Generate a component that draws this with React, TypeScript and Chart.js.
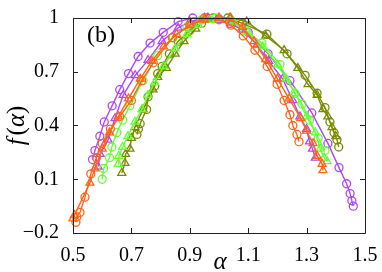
import React, { useEffect, useRef } from "react";
import { Chart, registerables } from "chart.js";

Chart.register(...registerables);

// x ticks / y ticks
const X_TICKS = [0.5, 0.7, 0.9, 1.1, 1.3, 1.5];
const Y_TICKS = [-0.2, 0.1, 0.4, 0.7, 1];

// Orange, circles
const ALPHA_OC = [0.51, 0.513, 0.524, 0.541, 0.561, 0.58, 0.6, 0.628, 0.66, 0.7, 0.735, 0.775, 0.84, 0.9, 0.95, 1.0, 1.04, 1.083, 1.123, 1.165, 1.199, 1.223, 1.243, 1.253, 1.267, 1.274];
const F_OC = [-0.14, -0.11, -0.085, 0.0, 0.13, 0.22, 0.3, 0.38, 0.45, 0.54, 0.65, 0.75, 0.89, 0.96, 1.0, 0.99, 0.96, 0.9, 0.82, 0.73, 0.63, 0.54, 0.46, 0.4, 0.35, 0.31];
// Orange, triangles
const ALPHA_OT = [0.5, 0.505, 0.558, 0.575, 0.6, 0.625, 0.655, 0.69, 0.73, 0.77, 0.81, 0.855, 0.9, 0.95, 1.0, 1.037, 1.08, 1.12, 1.16, 1.2, 1.24, 1.28, 1.3, 1.322, 1.336, 1.353, 1.356];
const F_OT = [-0.12, -0.1, 0.08, 0.16, 0.27, 0.36, 0.45, 0.55, 0.66, 0.76, 0.84, 0.91, 0.96, 0.99, 1.0, 1.0, 0.95, 0.87, 0.77, 0.66, 0.55, 0.44, 0.37, 0.3, 0.23, 0.185, 0.15];
// Green, circles
const ALPHA_GC = [0.6, 0.605, 0.625, 0.633, 0.65, 0.67, 0.695, 0.74, 0.79, 0.843, 0.89, 0.94, 0.99, 1.04, 1.09, 1.147, 1.209, 1.26, 1.284, 1.31, 1.34, 1.363];
const F_GC = [0.1, 0.16, 0.22, 0.28, 0.36, 0.43, 0.51, 0.65, 0.79, 0.89, 0.95, 0.99, 1.0, 0.98, 0.93, 0.86, 0.74, 0.58, 0.52, 0.43, 0.33, 0.26];
// Green, triangles
const ALPHA_GT = [0.655, 0.657, 0.67, 0.688, 0.712, 0.736, 0.757, 0.78, 0.81, 0.85, 0.89, 0.93, 0.97, 1.0, 1.05, 1.1, 1.15, 1.2, 1.23, 1.26, 1.3, 1.33, 1.346, 1.36, 1.37];
const F_GT = [0.185, 0.23, 0.28, 0.34, 0.42, 0.49, 0.57, 0.64, 0.73, 0.83, 0.91, 0.96, 0.99, 1.0, 0.98, 0.92, 0.84, 0.74, 0.66, 0.58, 0.45, 0.36, 0.27, 0.22, 0.2];
// Purple, circles
const ALPHA_PC = [0.567, 0.575, 0.592, 0.607, 0.634, 0.66, 0.69, 0.723, 0.764, 0.809, 0.86, 0.91, 0.96, 1.0, 1.038, 1.1, 1.168, 1.243, 1.318, 1.373, 1.411, 1.437, 1.449, 1.455, 1.46];
const F_PC = [0.21, 0.26, 0.34, 0.42, 0.51, 0.6, 0.69, 0.785, 0.86, 0.92, 0.98, 1.0, 1.0, 0.995, 0.97, 0.92, 0.8, 0.65, 0.47, 0.3, 0.165, 0.075, 0.02, -0.02, -0.05];
// Purple, triangles
const ALPHA_PT = [0.586, 0.593, 0.62, 0.644, 0.672, 0.713, 0.757, 0.805, 0.86, 0.9, 0.95, 1.0, 1.04, 1.08, 1.13, 1.17, 1.218, 1.253, 1.277, 1.3, 1.31, 1.32, 1.33];
const F_PT = [0.17, 0.24, 0.32, 0.44, 0.57, 0.68, 0.765, 0.87, 0.945, 0.98, 1.0, 0.99, 0.97, 0.935, 0.85, 0.76, 0.66, 0.54, 0.45, 0.38, 0.31, 0.27, 0.22];
// Olive, circles
const ALPHA_LC = [0.719, 0.724, 0.73, 0.752, 0.757, 0.78, 0.79, 0.805, 0.83, 0.86, 0.9, 0.94, 0.98, 1.03, 1.08, 1.164, 1.233, 1.295, 1.336, 1.363, 1.38, 1.394, 1.404, 1.41];
const F_LC = [0.35, 0.38, 0.41, 0.49, 0.56, 0.62, 0.69, 0.73, 0.8, 0.87, 0.93, 0.97, 1.0, 1.0, 0.97, 0.91, 0.8, 0.68, 0.58, 0.5, 0.42, 0.36, 0.32, 0.28];
// Olive, triangles
const ALPHA_LT = [0.667, 0.678, 0.68, 0.695, 0.7, 0.712, 0.74, 0.774, 0.79, 0.82, 0.85, 0.88, 0.92, 0.962, 1.0, 1.04, 1.095, 1.16, 1.223, 1.27, 1.305, 1.336, 1.356, 1.373, 1.387, 1.4];
const F_LT = [0.135, 0.19, 0.24, 0.27, 0.33, 0.39, 0.49, 0.6, 0.67, 0.72, 0.8, 0.87, 0.94, 1.0, 1.0, 1.0, 0.98, 0.9, 0.82, 0.72, 0.63, 0.57, 0.49, 0.45, 0.39, 0.34];

const ORANGE = "#ff6419";
const GREEN = "#66ff33";
const PURPLE = "#b046f5";
const OLIVE = "#7a8c00";

const FONT = "'Liberation Serif', 'Times New Roman', Times, serif";

function pts(xs: number[], ys: number[]) {
  return xs.map((x, i) => ({ x, y: ys[i] }));
}

function ds(xs: number[], ys: number[], color: string, style: string) {
  return {
    data: pts(xs, ys),
    borderColor: color,
    backgroundColor: "rgba(0,0,0,0)",
    borderWidth: 1.4,
    pointStyle: style,
    pointRadius: style === "triangle" ? 4.6 : 4,
    pointBorderWidth: 1.3,
    pointBorderColor: color,
    pointBackgroundColor: "rgba(0,0,0,0)",
    tension: 0,
    clip: false as any,
  };
}

const framePlugin = {
  id: "frame",
  afterDraw(chart: any) {
    const ctx = chart.ctx;
    const { left, right, top, bottom } = chart.chartArea;
    const xs = chart.scales.x;
    const ys = chart.scales.y;
    ctx.save();
    ctx.strokeStyle = "#222";
    ctx.lineWidth = 1;
    ctx.beginPath();
    ctx.rect(Math.round(left) + 0.5, Math.round(top) + 0.5, Math.round(right - left), Math.round(bottom - top));
    ctx.stroke();
    const L = 5;
    ctx.beginPath();
    X_TICKS.forEach((v) => {
      const px = Math.round(xs.getPixelForValue(v)) + 0.5;
      ctx.moveTo(px, bottom);
      ctx.lineTo(px, bottom - L);
      ctx.moveTo(px, top);
      ctx.lineTo(px, top + L);
    });
    Y_TICKS.forEach((v) => {
      const py = Math.round(ys.getPixelForValue(v)) + 0.5;
      ctx.moveTo(left, py);
      ctx.lineTo(left + L, py);
      ctx.moveTo(right, py);
      ctx.lineTo(right - L, py);
    });
    ctx.stroke();

    // panel label
    ctx.fillStyle = "#000";
    ctx.font = `24px ${FONT}`;
    ctx.textAlign = "left";
    ctx.textBaseline = "alphabetic";
    ctx.fillText("(b)", 87, 42);

    // x axis title
    ctx.font = `italic 25px ${FONT}`;
    ctx.textAlign = "center";
    ctx.fillText("α", (left + right) / 2 + 1, 269);

    // y axis title f(α)
    ctx.save();
    ctx.translate(24, (top + bottom) / 2);
    ctx.rotate(-Math.PI / 2);
    const parts: [string, boolean][] = [["f", true], ["(", false], ["α", true], [")", false]];
    const gap = (t: string) => (t === "f" ? 3 : 0);
    let total = 0;
    parts.forEach(([t, it]) => {
      ctx.font = `${it ? "italic " : ""}25px ${FONT}`;
      total += ctx.measureText(t).width + gap(t);
    });
    let cx = -total / 2;
    ctx.textAlign = "left";
    parts.forEach(([t, it]) => {
      ctx.font = `${it ? "italic " : ""}25px ${FONT}`;
      ctx.fillText(t, cx, 0);
      cx += ctx.measureText(t).width + gap(t);
    });
    ctx.restore();
    ctx.restore();
  },
};

export default function App() {
  const ref = useRef<HTMLCanvasElement | null>(null);
  useEffect(() => {
    document.body.style.margin = "0";
    let chart: any = null;
    let cancelled = false;
    const make = () => {
      if (cancelled || !ref.current) return;
      chart = new Chart(ref.current as HTMLCanvasElement, {
        type: "line",
        data: {
          datasets: [
            ds(ALPHA_OC, F_OC, ORANGE, "circle"),
            ds(ALPHA_OT, F_OT, ORANGE, "triangle"),
            ds(ALPHA_GC, F_GC, GREEN, "circle"),
            ds(ALPHA_GT, F_GT, GREEN, "triangle"),
            ds(ALPHA_PC, F_PC, PURPLE, "circle"),
            ds(ALPHA_PT, F_PT, PURPLE, "triangle"),
            ds(ALPHA_LC, F_LC, OLIVE, "circle"),
            ds(ALPHA_LT, F_LT, OLIVE, "triangle"),
          ] as any,
        },
        options: {
          animation: false,
          responsive: true,
          maintainAspectRatio: false,
          layout: { padding: { top: 15, right: 17, left: 0, bottom: 0 } },
          plugins: { legend: { display: false }, tooltip: { enabled: false } },
          scales: {
            x: {
              type: "linear",
              min: 0.5,
              max: 1.5,
              afterBuildTicks: (s: any) => {
                s.ticks = X_TICKS.map((v) => ({ value: v }));
              },
              ticks: {
                color: "#000",
                font: { family: FONT, size: 20 },
                padding: 3,
                maxRotation: 0,
                callback: (v: any) => String(Number(v).toFixed(1)),
              },
              grid: { display: false },
              border: { display: false },
              afterFit: (s: any) => {
                s.height = 39;
              },
            },
            y: {
              type: "linear",
              min: -0.2,
              max: 1,
              afterBuildTicks: (s: any) => {
                s.ticks = Y_TICKS.map((v) => ({ value: v }));
              },
              ticks: {
                color: "#000",
                font: { family: FONT, size: 20 },
                padding: 6,
                callback: (v: any) => {
                  const n = Number(v);
                  if (Math.abs(n - 1) < 1e-9) return "1";
                  const s = Math.abs(n).toFixed(1);
                  return n < 0 ? "\u2212" + s : s;
                },
              },
              grid: { display: false },
              border: { display: false },
              afterFit: (s: any) => {
                s.width = 73;
              },
            },
          },
        },
        plugins: [framePlugin],
      });
    };
    const fonts: any = (document as any).fonts;
    if (fonts && fonts.load) {
      Promise.all([
        fonts.load(`20px 'Liberation Serif'`, "0.5α"),
        fonts.load(`italic 25px 'Liberation Serif'`, "fα"),
      ])
        .catch(() => null)
        .then(make);
    } else {
      make();
    }
    return () => {
      cancelled = true;
      if (chart) chart.destroy();
    };
  }, []);
  return (
    <div style={{ position: "absolute", left: 0, top: 0, width: 382, height: 272, background: "#fff" }}>
      <canvas ref={ref} />
    </div>
  );
}
